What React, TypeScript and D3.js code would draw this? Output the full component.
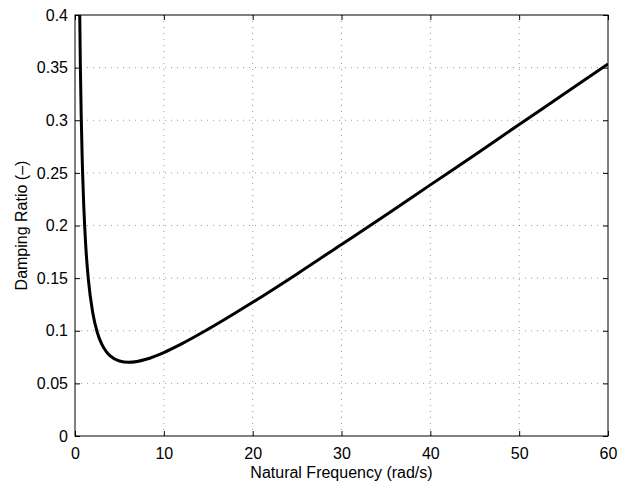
import React, { useEffect, useRef } from 'react';
import * as d3 from 'd3';

// values
const frequency = [0.5, 0.6, 0.7, 0.8, 1, 1.2, 1.5, 2, 2.5, 3, 3.5, 4, 5, 6, 7, 8, 10, 12, 15, 20, 25, 30, 35, 40, 45, 50, 55, 60];
const dampingRatio = [0.423, 0.3535, 0.304, 0.267, 0.216, 0.182, 0.149, 0.117, 0.0986, 0.0875, 0.0804, 0.0758, 0.0712, 0.070, 0.0708, 0.0729, 0.0793, 0.0875, 0.1015, 0.127, 0.154, 0.182, 0.210, 0.2386, 0.267, 0.296, 0.3246, 0.3535];
const xTicks = [0, 10, 20, 30, 40, 50, 60];
const yTicks = [0, 0.05, 0.1, 0.15, 0.2, 0.25, 0.3, 0.35, 0.4];

const FONT = 'Liberation Sans, Arial, sans-serif';

const App = () => {
  const svgRef = useRef<SVGSVGElement>(null);

  useEffect(() => {
    const svgWidth = 629;
    const svgHeight = 482;
    const margin = { top: 15, right: 21, bottom: 46, left: 75 };
    const w = svgWidth - margin.left - margin.right;
    const h = svgHeight - margin.top - margin.bottom;

    const svg = d3.select(svgRef.current);
    svg.selectAll('*').remove();

    const x = d3.scaleLinear().domain([0, 60]).range([0, w]);
    const y = d3.scaleLinear().domain([0, 0.4]).range([h, 0]);

    svg.append('defs').append('clipPath').attr('id', 'plotclip')
      .append('rect').attr('width', w).attr('height', h);

    const g = svg.append('g').attr('transform', `translate(${margin.left},${margin.top})`);

    // grid (dotted)
    g.selectAll('.vgrid')
      .data(xTicks.slice(1, -1))
      .join('line')
      .attr('x1', d => x(d)).attr('x2', d => x(d))
      .attr('y1', 0).attr('y2', h)
      .attr('stroke', '#555').attr('stroke-width', 0.6)
      .attr('stroke-dasharray', '1,5');

    g.selectAll('.hgrid')
      .data(yTicks.slice(1, -1))
      .join('line')
      .attr('x1', 0).attr('x2', w)
      .attr('y1', d => y(d)).attr('y2', d => y(d))
      .attr('stroke', '#555').attr('stroke-width', 0.6)
      .attr('stroke-dasharray', '1,5');

    // axes, ticks inside on all four sides
    const fmt = (d: d3.NumberValue) => String(+d);
    const styleAxis = (sel: d3.Selection<SVGGElement, unknown, null, undefined>) => {
      sel.select('.domain').remove();
      sel.selectAll('text').attr('font-family', FONT).attr('font-size', 16).attr('fill', '#000');
      sel.selectAll('line').attr('stroke', '#000');
    };

    g.append('g').attr('transform', `translate(0,${h})`)
      .call(d3.axisBottom(x).tickValues(xTicks).tickSize(-5).tickPadding(12).tickFormat(fmt))
      .call(styleAxis);
    g.append('g')
      .call(d3.axisTop(x).tickValues(xTicks).tickSize(-5).tickFormat(() => ''))
      .call(styleAxis);
    g.append('g')
      .call(d3.axisLeft(y).tickValues(yTicks).tickSize(-5).tickPadding(7).tickFormat(fmt))
      .call(styleAxis);
    g.append('g').attr('transform', `translate(${w},0)`)
      .call(d3.axisRight(y).tickValues(yTicks).tickSize(-5).tickFormat(() => ''))
      .call(styleAxis);

    g.append('rect')
      .attr('width', w).attr('height', h)
      .attr('fill', 'none').attr('stroke', '#000').attr('stroke-width', 1);

    // curve
    const pts = frequency.map((f, i) => [f, dampingRatio[i]] as [number, number]);
    const line = d3.line<[number, number]>()
      .x(d => x(d[0]))
      .y(d => y(d[1]))
      .curve(d3.curveMonotoneX);

    g.append('path')
      .datum(pts)
      .attr('clip-path', 'url(#plotclip)')
      .attr('fill', 'none')
      .attr('stroke', '#000')
      .attr('stroke-width', 3)
      .attr('d', line);

    // axis titles
    svg.append('text')
      .attr('x', margin.left + w / 2).attr('y', 478)
      .attr('text-anchor', 'middle')
      .attr('font-family', FONT).attr('font-size', 16)
      .text('Natural Frequency (rad/s)');

    svg.append('text')
      .attr('transform', `translate(27,${margin.top + h / 2}) rotate(-90)`)
      .attr('text-anchor', 'middle')
      .attr('font-family', FONT).attr('font-size', 16)
      .text('Damping Ratio (–)');
  }, []);

  return (
    <div style={{ position: 'absolute', left: 0, top: 0 }}>
      <svg ref={svgRef} width={629} height={482} style={{ display: 'block', background: '#fff' }}></svg>
    </div>
  );
};

export default App;
